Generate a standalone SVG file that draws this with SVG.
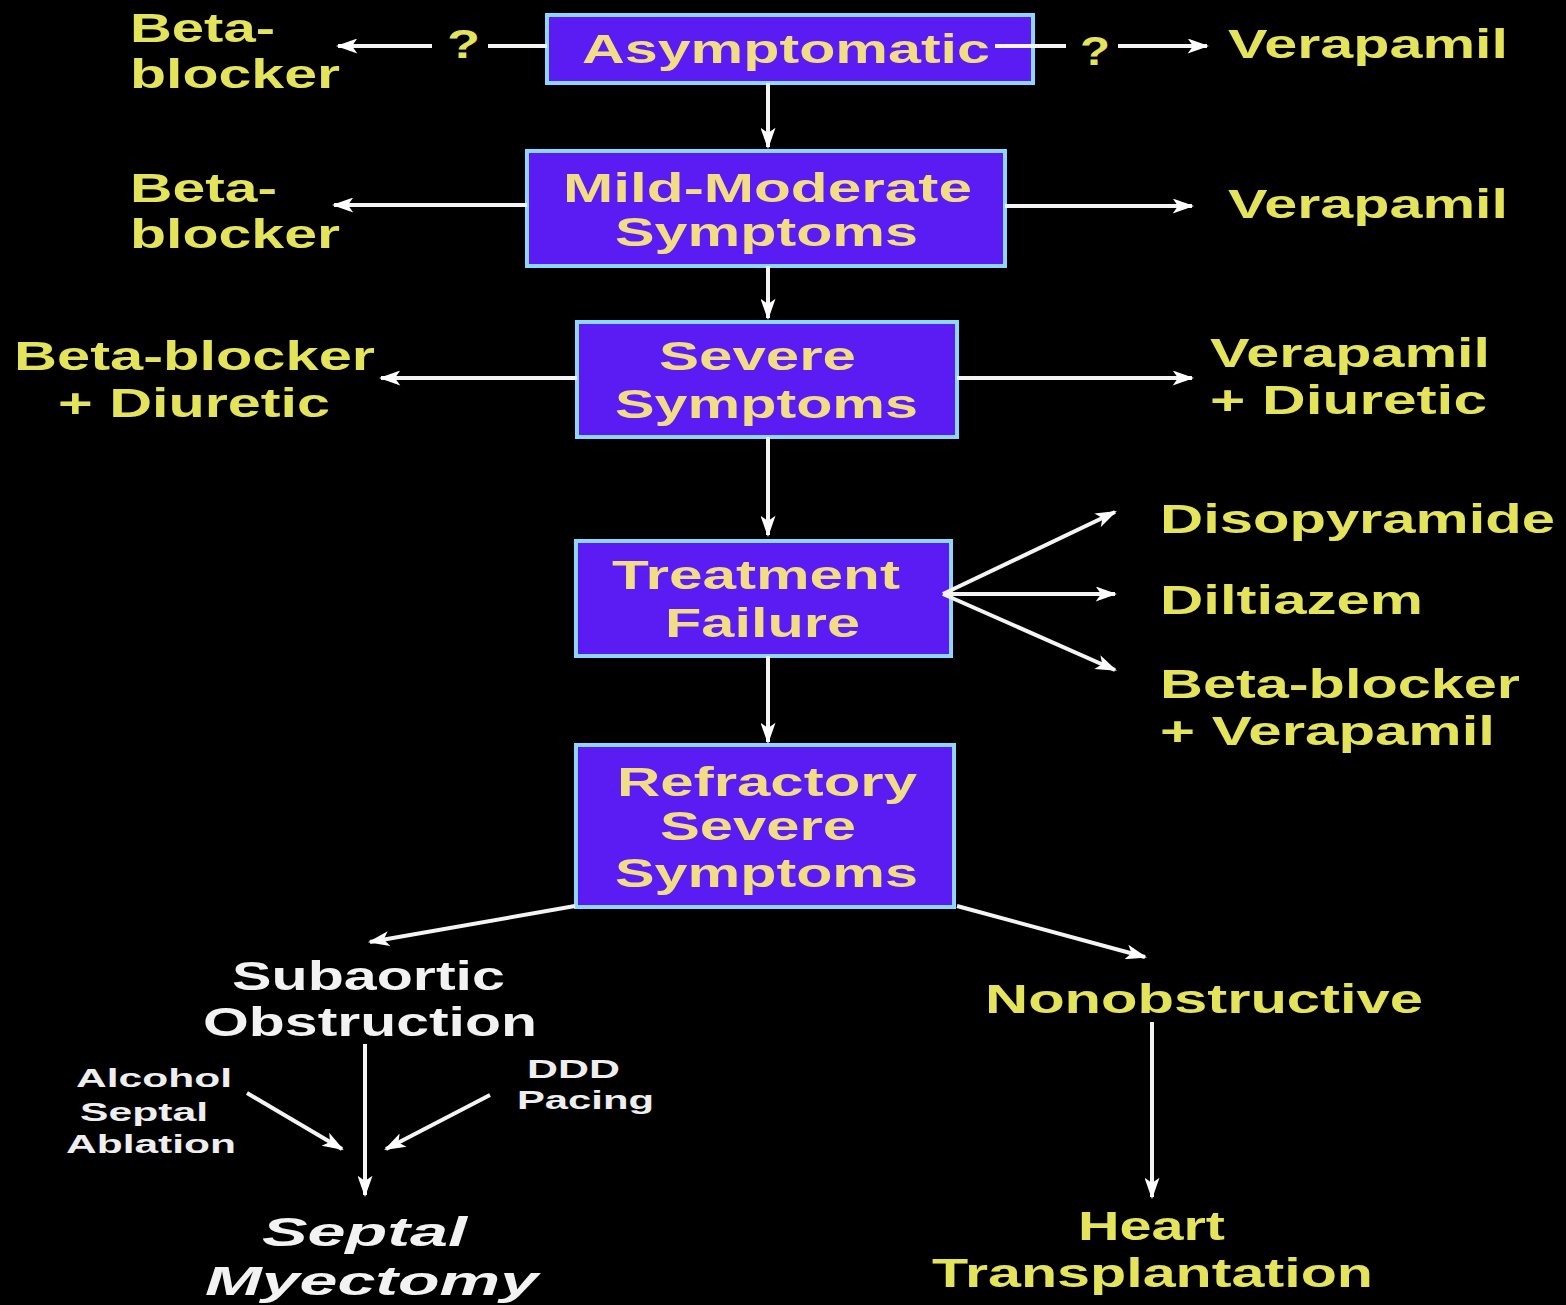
<svg xmlns="http://www.w3.org/2000/svg" width="1566" height="1305" viewBox="0 0 1566 1305">
  <defs>
    <marker id="arrow" viewBox="0 0 20 14" refX="18" refY="7" markerWidth="22" markerHeight="15" markerUnits="userSpaceOnUse" orient="auto">
      <path d="M0,0 L20,7 L0,14 L5,7 Z" fill="#ffffff"/>
    </marker>
    <style>
      .box { fill: #5a1cf2; stroke: #8cd6ff; stroke-width: 4; }
      .bt { font-family: "Liberation Sans", Arial, sans-serif; font-weight: bold; font-size: 40px; fill: #f2dc86; }
      .yl { font-family: "Liberation Sans", Arial, sans-serif; font-weight: bold; font-size: 41px; fill: #e4e45c; }
      .wt { font-family: "Liberation Sans", Arial, sans-serif; font-weight: bold; font-size: 41px; fill: #f2f2f2; }
      .it { font-style: italic; }
      .sm { font-family: "Liberation Sans", Arial, sans-serif; font-weight: bold; font-size: 26px; fill: #eeeeee; }
      .ln { stroke: #f4f4f4; stroke-width: 4; fill: none; }
      .ar { stroke: #f4f4f4; stroke-width: 4; fill: none; marker-end: url(#arrow); }
    </style>
  </defs>

  <rect width="1566" height="1305" fill="#000000"/>

  <!-- stage boxes -->
  <g id="asymptomatic">
    <rect class="box" x="547" y="15" width="486" height="68"/>
    <text class="bt" x="582" y="63" textLength="408" lengthAdjust="spacingAndGlyphs">Asymptomatic</text>
  </g>
  <g id="mild-moderate">
    <rect class="box" x="527" y="151" width="478" height="115"/>
    <text class="bt" x="563" y="202" textLength="409" lengthAdjust="spacingAndGlyphs">Mild-Moderate</text>
    <text class="bt" x="615" y="246" textLength="303" lengthAdjust="spacingAndGlyphs">Symptoms</text>
  </g>
  <g id="severe">
    <rect class="box" x="577" y="322" width="380" height="115"/>
    <text class="bt" x="659" y="370" textLength="197" lengthAdjust="spacingAndGlyphs">Severe</text>
    <text class="bt" x="615" y="418" textLength="303" lengthAdjust="spacingAndGlyphs">Symptoms</text>
  </g>
  <g id="treatment-failure">
    <rect class="box" x="576" y="541" width="375" height="115"/>
    <text class="bt" x="612" y="589" textLength="288" lengthAdjust="spacingAndGlyphs">Treatment</text>
    <text class="bt" x="665" y="637" textLength="195" lengthAdjust="spacingAndGlyphs">Failure</text>
  </g>
  <g id="refractory">
    <rect class="box" x="576" y="745" width="378" height="162"/>
    <text class="bt" x="617" y="796" textLength="300" lengthAdjust="spacingAndGlyphs">Refractory</text>
    <text class="bt" x="660" y="840" textLength="196" lengthAdjust="spacingAndGlyphs">Severe</text>
    <text class="bt" x="615" y="887" textLength="303" lengthAdjust="spacingAndGlyphs">Symptoms</text>
  </g>

  <!-- connectors -->
  <g id="connectors">
    <line class="ln" x1="547" y1="46" x2="488" y2="46"/>
    <line class="ar" x1="432" y1="46" x2="338" y2="46"/>
    <line class="ln" x1="995" y1="46" x2="1066" y2="46"/>
    <line class="ar" x1="1118" y1="46" x2="1207" y2="46"/>
    <line class="ar" x1="768" y1="83" x2="768" y2="147"/>
    <line class="ar" x1="527" y1="205" x2="334" y2="205"/>
    <line class="ar" x1="1005" y1="206" x2="1192" y2="206"/>
    <line class="ar" x1="768" y1="266" x2="768" y2="318"/>
    <line class="ar" x1="577" y1="378" x2="381" y2="378"/>
    <line class="ar" x1="957" y1="378" x2="1192" y2="378"/>
    <line class="ar" x1="768" y1="437" x2="768" y2="535"/>
    <line class="ar" x1="943" y1="594" x2="1115" y2="512"/>
    <line class="ar" x1="943" y1="594" x2="1115" y2="594"/>
    <line class="ar" x1="943" y1="594" x2="1115" y2="670"/>
    <line class="ar" x1="768" y1="656" x2="768" y2="742"/>
    <line class="ar" x1="575" y1="906" x2="370" y2="942"/>
    <line class="ar" x1="957" y1="906" x2="1145" y2="957"/>
    <line class="ar" x1="365" y1="1044" x2="365" y2="1195"/>
    <line class="ar" x1="247" y1="1093" x2="342" y2="1149"/>
    <line class="ar" x1="490" y1="1095" x2="386" y2="1149"/>
    <line class="ar" x1="1152" y1="1022" x2="1152" y2="1197"/>
  </g>

  <!-- drug options -->
  <g id="q-left"><text class="yl" x="447" y="58" textLength="33" lengthAdjust="spacingAndGlyphs">?</text></g>
  <g id="q-right"><text class="yl" x="1080" y="65" textLength="30" lengthAdjust="spacingAndGlyphs">?</text></g>
  <g id="bb-1">
    <text class="yl" x="130" y="42" textLength="145" lengthAdjust="spacingAndGlyphs">Beta-</text>
    <text class="yl" x="130" y="88" textLength="210" lengthAdjust="spacingAndGlyphs">blocker</text>
  </g>
  <g id="vera-1"><text class="yl" x="1228" y="58" textLength="280" lengthAdjust="spacingAndGlyphs">Verapamil</text></g>
  <g id="bb-2">
    <text class="yl" x="130" y="202" textLength="147" lengthAdjust="spacingAndGlyphs">Beta-</text>
    <text class="yl" x="130" y="248" textLength="210" lengthAdjust="spacingAndGlyphs">blocker</text>
  </g>
  <g id="vera-2"><text class="yl" x="1228" y="218" textLength="280" lengthAdjust="spacingAndGlyphs">Verapamil</text></g>
  <g id="bb-diuretic">
    <text class="yl" x="14" y="370" textLength="361" lengthAdjust="spacingAndGlyphs">Beta-blocker</text>
    <text class="yl" x="58" y="417" textLength="272" lengthAdjust="spacingAndGlyphs">+ Diuretic</text>
  </g>
  <g id="vera-diuretic">
    <text class="yl" x="1210" y="367" textLength="280" lengthAdjust="spacingAndGlyphs">Verapamil</text>
    <text class="yl" x="1210" y="414" textLength="277" lengthAdjust="spacingAndGlyphs">+ Diuretic</text>
  </g>
  <g id="disopyramide"><text class="yl" x="1160" y="533" textLength="395" lengthAdjust="spacingAndGlyphs">Disopyramide</text></g>
  <g id="diltiazem"><text class="yl" x="1160" y="614" textLength="263" lengthAdjust="spacingAndGlyphs">Diltiazem</text></g>
  <g id="bb-vera">
    <text class="yl" x="1160" y="698" textLength="360" lengthAdjust="spacingAndGlyphs">Beta-blocker</text>
    <text class="yl" x="1160" y="745" textLength="335" lengthAdjust="spacingAndGlyphs">+ Verapamil</text>
  </g>

  <!-- refractory branches -->
  <g id="subaortic">
    <text class="wt" x="232" y="990" textLength="273" lengthAdjust="spacingAndGlyphs">Subaortic</text>
    <text class="wt" x="203" y="1036" textLength="334" lengthAdjust="spacingAndGlyphs">Obstruction</text>
  </g>
  <g id="alcohol-ablation">
    <text class="sm" x="76" y="1087" textLength="156" lengthAdjust="spacingAndGlyphs">Alcohol</text>
    <text class="sm" x="80" y="1121" textLength="128" lengthAdjust="spacingAndGlyphs">Septal</text>
    <text class="sm" x="66" y="1153" textLength="170" lengthAdjust="spacingAndGlyphs">Ablation</text>
  </g>
  <g id="ddd-pacing">
    <text class="sm" x="527" y="1078" textLength="93" lengthAdjust="spacingAndGlyphs">DDD</text>
    <text class="sm" x="517" y="1109" textLength="137" lengthAdjust="spacingAndGlyphs">Pacing</text>
  </g>
  <g id="septal-myectomy">
    <text class="wt it" x="262" y="1246" textLength="205" lengthAdjust="spacingAndGlyphs">Septal</text>
    <text class="wt it" x="205" y="1295" textLength="333" lengthAdjust="spacingAndGlyphs">Myectomy</text>
  </g>
  <g id="nonobstructive"><text class="yl" x="985" y="1013" textLength="438" lengthAdjust="spacingAndGlyphs">Nonobstructive</text></g>
  <g id="heart-transplant">
    <text class="yl" x="1078" y="1240" textLength="147" lengthAdjust="spacingAndGlyphs">Heart</text>
    <text class="yl" x="932" y="1287" textLength="441" lengthAdjust="spacingAndGlyphs">Transplantation</text>
  </g>
</svg>
